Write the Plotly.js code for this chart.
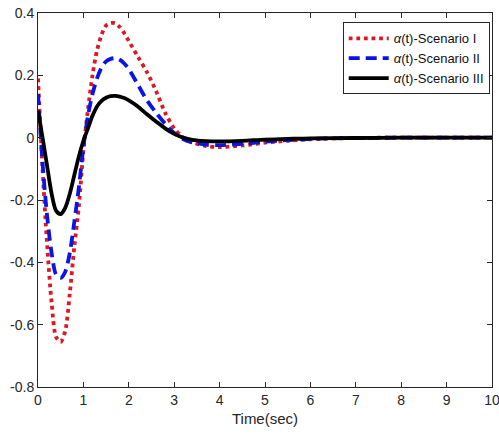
<!DOCTYPE html>
<html>
<head>
<meta charset="utf-8">
<script src="https://cdn.plot.ly/plotly-3.0.1.min.js"></script>
<style>html,body{margin:0;padding:0;background:#fff;}#chart{width:499px;height:437px;}</style>
</head>
<body>
<div id="chart"></div>
<script>
const time = [0, 0.1, 0.2, 0.3, 0.4, 0.5, 0.6, 0.7, 0.8, 0.9, 1.0, 1.1, 1.2, 1.3, 1.4, 1.5, 1.6, 1.7, 1.8, 1.9, 2.0, 2.2, 2.4, 2.6, 2.8, 3.0, 3.2, 3.4, 3.7, 4.0, 4.5, 5.0, 5.5, 6.0, 7.0, 8.0, 9.0, 10.0];
const scenarioI = [0.19, -0.1, -0.34, -0.53, -0.64, -0.655, -0.62, -0.50, -0.35, -0.22, -0.04, 0.09, 0.20, 0.28, 0.33, 0.36, 0.368, 0.367, 0.355, 0.335, 0.31, 0.26, 0.21, 0.15, 0.08, 0.03, 0.0, -0.015, -0.027, -0.03, -0.025, -0.016, -0.01, -0.005, -0.001, 0, 0, 0];
const scenarioII = [0.14, -0.08, -0.25, -0.37, -0.44, -0.45, -0.43, -0.37, -0.27, -0.16, -0.03, 0.07, 0.14, 0.19, 0.225, 0.245, 0.253, 0.255, 0.25, 0.238, 0.22, 0.17, 0.12, 0.08, 0.045, 0.015, -0.005, -0.015, -0.022, -0.024, -0.02, -0.013, -0.008, -0.004, -0.001, 0, 0, 0];
const scenarioIII = [0.087, 0.0, -0.09, -0.18, -0.235, -0.245, -0.225, -0.18, -0.12, -0.06, -0.01, 0.03, 0.07, 0.1, 0.118, 0.128, 0.133, 0.134, 0.132, 0.127, 0.12, 0.1, 0.075, 0.052, 0.03, 0.012, 0.0, -0.007, -0.011, -0.012, -0.01, -0.006, -0.004, -0.002, -0.001, 0, 0, 0];
const seriesNames = ['<i>α</i>(t)-Scenario I', '<i>α</i>(t)-Scenario II', '<i>α</i>(t)-Scenario III'];
const xTicks = [0, 1, 2, 3, 4, 5, 6, 7, 8, 9, 10];
const yTickVals = [-0.8, -0.6, -0.4, -0.2, 0, 0.2, 0.4];
const yTickText = ['-0.8', '-0.6', '-0.4', '-0.2', '0', '0.2', '0.4'];

const traces = [
  {x: time, y: scenarioI, name: seriesNames[0], mode: 'lines',
   line: {color: 'rgb(220,25,35)', width: 3.8, dash: 'dot', shape: 'spline', smoothing: 0.8}},
  {x: time, y: scenarioII, name: seriesNames[1], mode: 'lines',
   line: {color: 'rgb(10,20,230)', width: 3.8, dash: '11px,6px', shape: 'spline', smoothing: 0.8}},
  {x: time, y: scenarioIII, name: seriesNames[2], mode: 'lines',
   line: {color: '#000000', width: 3.8, shape: 'spline', smoothing: 0.8}}
];

const axisCommon = {
  showline: true, linecolor: '#262626', linewidth: 1, mirror: 'ticks',
  ticks: 'inside', ticklen: 5, tickcolor: '#262626', showgrid: false, zeroline: false,
  ticklabeloverflow: 'allow',
  tickfont: {family: 'Liberation Sans, Arial, sans-serif', size: 14, color: '#262626'}
};

const layout = {
  width: 499, height: 437,
  margin: {l: 38, r: 7, t: 13, b: 50},
  paper_bgcolor: '#fff', plot_bgcolor: '#fff',
  showlegend: true,
  xaxis: Object.assign({}, axisCommon, {
    range: [0, 10], tickvals: xTicks,
    title: {text: 'Time(sec)', standoff: 6, font: {family: 'Liberation Sans, Arial, sans-serif', size: 15, color: '#262626'}}
  }),
  yaxis: Object.assign({}, axisCommon, {
    range: [-0.8, 0.4], tickvals: yTickVals, ticktext: yTickText
  }),
  legend: {
    x: 0.995, xanchor: 'right', y: 0.975, yanchor: 'top',
    bgcolor: '#fff', bordercolor: '#262626', borderwidth: 1,
    font: {family: 'Liberation Sans, Arial, sans-serif', size: 13, color: '#111'},
    tracegroupgap: 0, itemwidth: 40
  }
};

Plotly.newPlot('chart', traces, layout, {displayModeBar: false, staticPlot: true});
</script>
</body>
</html>
